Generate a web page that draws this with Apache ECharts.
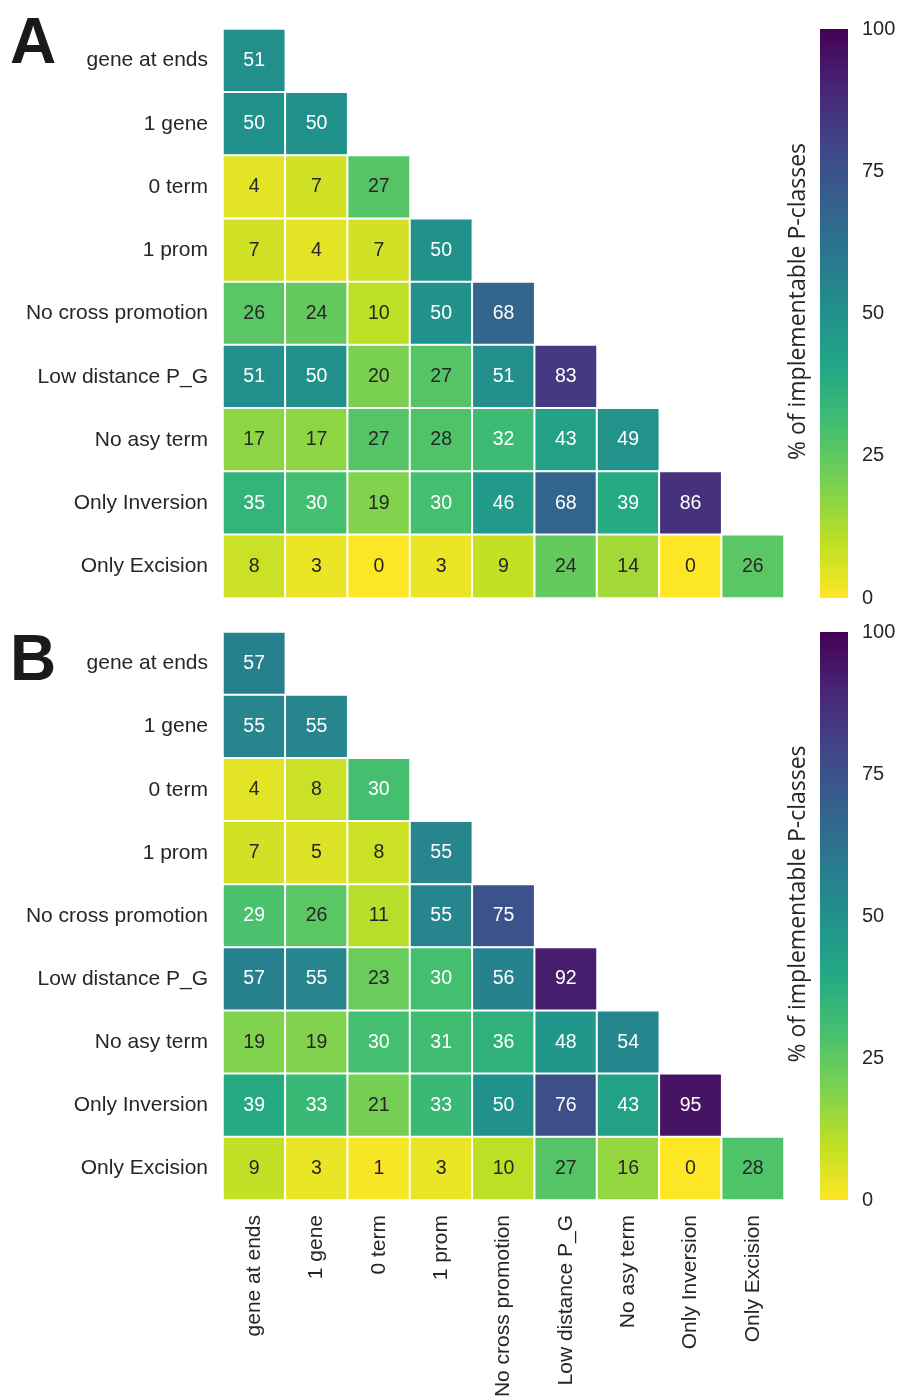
<!DOCTYPE html>
<html>
<head>
<meta charset="utf-8">
<script src="https://cdn.jsdelivr.net/npm/echarts@6/dist/echarts.min.js"></script>
<style>
html,body{margin:0;padding:0;background:#fff;}
#chart{width:899px;height:1396px;}
</style>
</head>
<body>
<div id="chart"></div>
<script>
const categories = ['gene at ends','1 gene','0 term','1 prom','No cross promotion','Low distance P_G','No asy term','Only Inversion','Only Excision'];
// lower-triangle rows (row i has i+1 values)
const valuesA = [
  [51],
  [50,50],
  [4,7,27],
  [7,4,7,50],
  [26,24,10,50,68],
  [51,50,20,27,51,83],
  [17,17,27,28,32,43,49],
  [35,30,19,30,46,68,39,86],
  [8,3,0,3,9,24,14,0,26]
];
const valuesB = [
  [57],
  [55,55],
  [4,8,30],
  [7,5,8,55],
  [29,26,11,55,75],
  [57,55,23,30,56,92],
  [19,19,30,31,36,48,54],
  [39,33,21,33,50,76,43,95],
  [9,3,1,3,10,27,16,0,28]
];
const colorbarTicks = [0,25,50,75,100];
const colorbarTitle = '% of implementable P-classes';
const panelLetters = ['A','B'];

const viridis = ['#440154','#482475','#414487','#355f8d','#2a788e','#21918c','#22a884','#44bf70','#7ad151','#bddf26','#fde725'];
const viridisLowToHigh = viridis.slice().reverse();
const FONT = 'Liberation Sans, Arial, Helvetica, sans-serif';
const DARK = '#262626';

function buildData(rows){
  const out = [];
  rows.forEach((row, r) => row.forEach((v, c) => {
    out.push({value:[c, r, v], label:{color: v >= 29 ? '#ffffff' : DARK}});
  }));
  return out;
}

const grids = [
  {left:223, top:29, width:561, height:569, outerBoundsMode:'none', containLabel:false},
  {left:223, top:632, width:561, height:568, outerBoundsMode:'none', containLabel:false},
  {left:820, top:29, width:28, height:569, outerBoundsMode:'none', containLabel:false},
  {left:820, top:632, width:28, height:568, outerBoundsMode:'none', containLabel:false}
];

function heatX(gi, showLabels){
  return {type:'category', gridIndex:gi, data:categories, position:'bottom',
    axisLine:{show:false}, axisTick:{show:false}, splitLine:{show:false},
    axisLabel:{show:showLabels, rotate:90, margin:15, fontSize:21, color:DARK, fontFamily:FONT, interval:0}};
}
function heatY(gi){
  return {type:'category', gridIndex:gi, data:categories, inverse:true,
    axisLine:{show:false}, axisTick:{show:false}, splitLine:{show:false},
    axisLabel:{margin:15, fontSize:21, color:DARK, fontFamily:FONT, interval:0}};
}
function cbX(gi){
  return {type:'category', gridIndex:gi, data:[''], show:false};
}
function cbY(gi){
  return {type:'value', gridIndex:gi, min:0, max:100, interval:25, position:'right',
    axisLine:{show:false}, axisTick:{show:false}, splitLine:{show:false},
    axisLabel:{margin:14, fontSize:20, color:DARK, fontFamily:FONT,
      formatter: v => colorbarTicks.indexOf(v) >= 0 ? String(v) : ''}};
}
function cbYName(gi){
  return {type:'value', gridIndex:gi, min:0, max:100, position:'left',
    axisLine:{show:false}, axisTick:{show:false}, splitLine:{show:false}, axisLabel:{show:false},
    name:colorbarTitle, nameLocation:'middle', nameRotate:90, nameGap:10,
    nameTextStyle:{fontSize:23, color:DARK, fontFamily:'Open Sans, Noto Sans, sans-serif', padding:[0,0,0,24]}};
}

const gradient = {type:'linear', x:0, y:0, x2:0, y2:1,
  colorStops: viridis.map((c,i) => ({offset:i/(viridis.length-1), color:c}))};

function heatSeries(xi, yi, rows){
  return {type:'heatmap', xAxisIndex:xi, yAxisIndex:yi, data:buildData(rows),
    itemStyle:{borderColor:'#ffffff', borderWidth:2},
    label:{show:true, fontSize:19.5, fontFamily:FONT, formatter:p => String(p.value[2])},
    emphasis:{disabled:true}};
}
function cbSeries(xi, yi){
  return {type:'bar', xAxisIndex:xi, yAxisIndex:yi, data:[colorbarTicks[colorbarTicks.length-1]],
    barWidth:'100%', itemStyle:{color:gradient}, silent:true};
}

const option = {
  backgroundColor:'#ffffff',
  animation:false,
  grid:grids,
  xAxis:[heatX(0,false), heatX(1,true), cbX(2), cbX(3)],
  yAxis:[heatY(0), heatY(1), cbY(2), cbYName(2), cbY(3), cbYName(3)],
  visualMap:[{type:'continuous', show:false, min:0, max:100, seriesIndex:[0,1],
    inRange:{color:viridisLowToHigh}}],
  series:[heatSeries(0,0,valuesA), heatSeries(1,1,valuesB), cbSeries(2,2), cbSeries(3,4)],
  graphic:[
    {type:'text', left:10, top:13, style:{text:panelLetters[0], font:'bold 64px ' + FONT, fill:'#1a1a1a'}},
    {type:'text', left:10, top:630, style:{text:panelLetters[1], font:'bold 64px ' + FONT, fill:'#1a1a1a'}}
  ]
};

const chart = echarts.init(document.getElementById('chart'), null, {renderer:'canvas'});
chart.setOption(option);
</script>
</body>
</html>
